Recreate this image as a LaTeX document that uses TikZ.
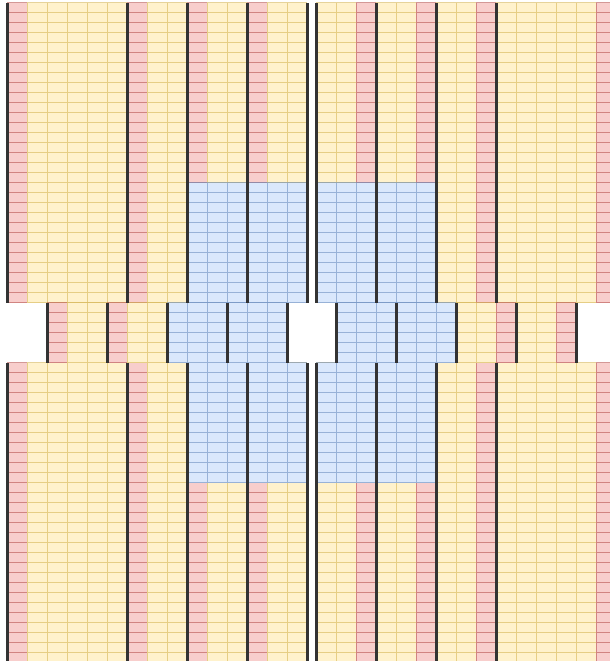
\documentclass[tikz,border=0pt]{standalone}
\usetikzlibrary{calc}
\definecolor{yelfill}{HTML}{FFF2CC}
\definecolor{yelline}{HTML}{D6B656}
\definecolor{redfill}{HTML}{F8CECC}
\definecolor{redline}{HTML}{B85450}
\definecolor{bluefill}{HTML}{DAE8FC}
\definecolor{blueline}{HTML}{6C8EBF}
\tikzset{
  gridline/.style={line width=0.8pt, draw opacity=0.6},
  wall/.style={draw=black!80, line width=1.1pt},
}
% one coloured patch of cells: fill, then the cell lines
\newcommand{\cells}[3]{\fill[#1fill] (#2) rectangle (#3); \draw[#1line, gridline] (#2) grid (#3);}

\begin{document}
\begin{tikzpicture}
\useasboundingbox (0,0) rectangle (305pt,330.5pt);

% left half
\begin{scope}[shift={(3.75pt,-0.75pt)}, x=10pt, y=5pt, step=1]
\foreach \yb in {0,36} { % bottom and top bands
  \foreach \xa/\xb in {0/6,6/9,9/12,12/15} {
    \cells{red}{\xa,\yb}{\xa+1,\yb+30}
    \cells{yel}{\xa+1,\yb}{\xb,\yb+30}
  }
}
\cells{blue}{9,18}{15,30}
\cells{blue}{9,36}{15,48}
% middle band
\foreach \xa in {2,5} {
  \cells{red}{\xa,30}{\xa+1,36}
  \cells{yel}{\xa+1,30}{\xa+3,36}
}
\cells{blue}{8,30}{14,36}
\foreach \x in {0,6,9,12,15} { % walls
  \draw[wall] (\x,0) -- (\x,30);
  \draw[wall] (\x,36) -- (\x,66);
}
\foreach \x in {2,5,8,11,14}
  \draw[wall] (\x,30) -- (\x,36);
\end{scope}

% right half
\begin{scope}[shift={(158.25pt,-0.75pt)}, x=10pt, y=5pt, step=1]
\foreach \yb in {0,36} { % bottom and top bands
  \foreach \xa/\xb in {0/3,3/6,6/9,9/15} {
    \cells{yel}{\xa,\yb}{\xb-1,\yb+30}
    \cells{red}{\xb-1,\yb}{\xb,\yb+30}
  }
}
\cells{blue}{0,18}{6,30}
\cells{blue}{0,36}{6,48}
% middle band
\cells{blue}{1,30}{7,36}
\foreach \xa in {7,10} {
  \cells{yel}{\xa,30}{\xa+2,36}
  \cells{red}{\xa+2,30}{\xa+3,36}
}
\foreach \x in {0,3,6,9,15} { % walls
  \draw[wall] (\x,0) -- (\x,30);
  \draw[wall] (\x,36) -- (\x,66);
}
\foreach \x in {1,4,7,10,13}
  \draw[wall] (\x,30) -- (\x,36);
\end{scope}

\end{tikzpicture}
\end{document}
